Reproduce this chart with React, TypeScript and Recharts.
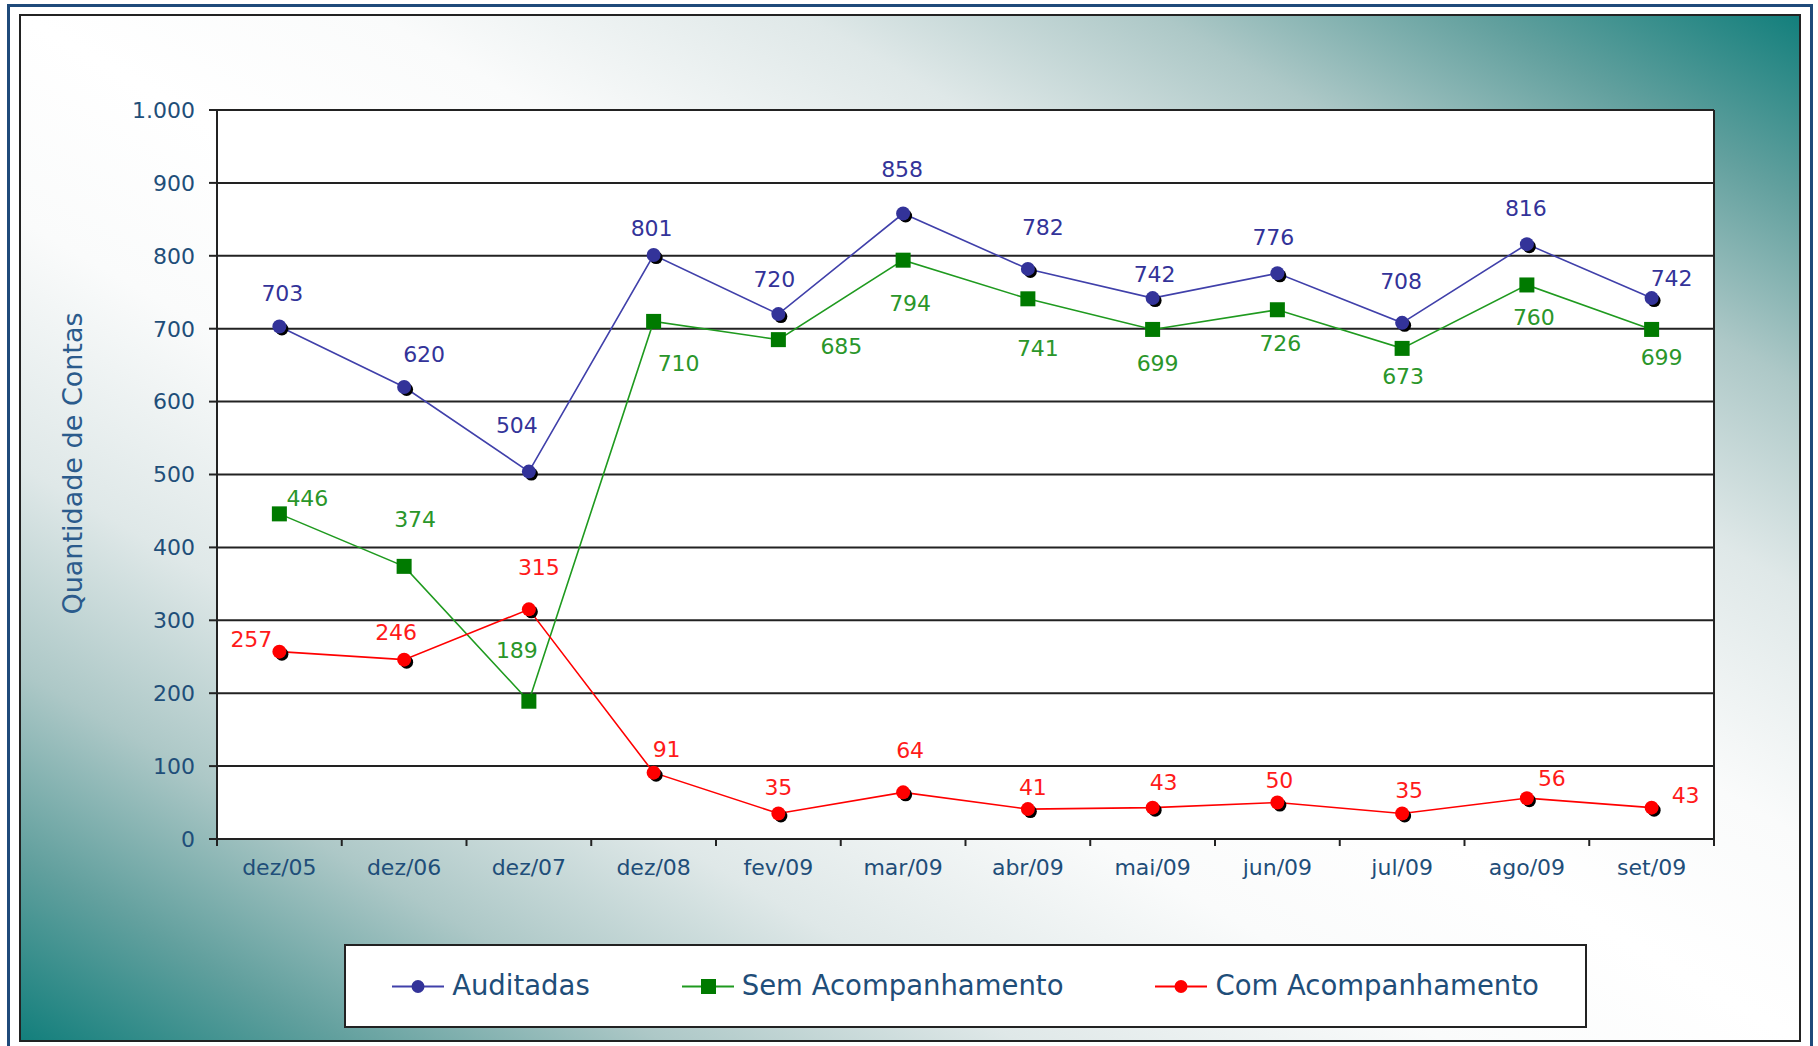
import React from 'react';
import { LineChart, Line, XAxis, YAxis, CartesianGrid, Legend, LabelList } from 'recharts';

const months = ['dez/05', 'dez/06', 'dez/07', 'dez/08', 'fev/09', 'mar/09', 'abr/09', 'mai/09', 'jun/09', 'jul/09', 'ago/09', 'set/09'];
const auditadas = [703, 620, 504, 801, 720, 858, 782, 742, 776, 708, 816, 742];
const semAcompanhamento = [446, 374, 189, 710, 685, 794, 741, 699, 726, 673, 760, 699];
const comAcompanhamento = [257, 246, 315, 91, 35, 64, 41, 43, 50, 35, 56, 43];
const yTicks = [0, 100, 200, 300, 400, 500, 600, 700, 800, 900, 1000];
const legendOrder = ['auditadas', 'sem', 'com'];

// where Excel dropped each data label, relative to its point (px)
const audOffsets = [[3, -33], [20, -33], [-12, -46], [-2, -27], [-4, -35], [-1, -44], [15, -41], [2, -24], [-4, -36], [-1, -41], [-1, -36], [20, -20]];
const semOffsets = [[28, -15], [11, -47], [-12, -51], [25, 42], [63, 7], [7, 43], [10, 50], [5, 34], [3, 34], [1, 28], [7, 33], [10, 28]];
const comOffsets = [[-28, -12], [-8, -27], [10, -42], [13, -23], [0, -26], [7, -42], [5, -22], [11, -25], [2, -22], [7, -23], [25, -20], [34, -12]];

const data = months.map((mes, i) => ({
  mes,
  auditadas: auditadas[i],
  sem: semAcompanhamento[i],
  com: comAcompanhamento[i],
}));

const W = 1818;
const H = 1046;
const FONT = '"DejaVu Sans", Verdana, sans-serif';
const AXIS_TEXT = '#1f4e79';
const FRAME = '#222';
const NAVY = '#333399';
const NAVY_LINE = '#4040aa';
const GREEN = '#007a00';
const GREEN_LINE = '#1f9a1f';
const GREEN_TEXT = '#2a962a';
const RED = '#ff0000';

const MARGIN = { top: 110, right: 104, bottom: 147, left: 0 };
const Y_AXIS_W = 217;
const PLOT_W = W - MARGIN.right - Y_AXIS_W;
const BAND = PLOT_W / months.length;

const fmtThousands = (v: number) => String(v).replace(/\B(?=(\d{3})+(?!\d))/g, '.');

const roundDot = (fill: string) => (props: any) => {
  const { cx, cy, index } = props;
  if (cx == null || cy == null) return <g key={`d-${index}`} />;
  return (
    <g key={`d-${index}`}>
      <circle cx={cx + 2.5} cy={cy + 2.5} r={6.5} fill="#000" />
      <circle cx={cx} cy={cy} r={7} fill={fill} />
    </g>
  );
};

const squareDot = (props: any) => {
  const { cx, cy, index } = props;
  if (cx == null || cy == null) return <g key={`s-${index}`} />;
  return <rect key={`s-${index}`} x={cx - 7.5} y={cy - 7.5} width={15} height={15} fill={GREEN} />;
};

const pointLabel = (color: string, offsets: number[][]) => (props: any) => {
  const vb = props.viewBox || {};
  const x = props.x ?? vb.x;
  const y = props.y ?? vb.y;
  const [dx, dy] = offsets[props.index] || [0, -30];
  return (
    <text
      key={`l-${props.index}`}
      x={x + dx}
      y={y + dy}
      fill={color}
      fontSize={22}
      fontFamily={FONT}
      textAnchor="middle"
      dominantBaseline="central"
    >
      {props.value}
    </text>
  );
};

const XTick = (props: any) => {
  const { x, y, payload, index } = props;
  const axisY = y - 7;
  return (
    <g>
      <line x1={x - BAND / 2} x2={x - BAND / 2} y1={axisY} y2={axisY + 7} stroke={FRAME} strokeWidth={2} />
      {index === months.length - 1 && (
        <line x1={x + BAND / 2} x2={x + BAND / 2} y1={axisY} y2={axisY + 7} stroke={FRAME} strokeWidth={2} />
      )}
      <text x={x} y={axisY + 36} textAnchor="middle" fill={AXIS_TEXT} fontSize={22} fontFamily={FONT}>
        {payload.value}
      </text>
    </g>
  );
};

const legendMarker = (key: string, color: string) => {
  if (key === 'sem') return <rect x={19} y={3} width={15} height={15} fill={GREEN} />;
  return <circle cx={26} cy={10.5} r={6.5} fill={key === 'auditadas' ? NAVY : color} />;
};

const renderLegend = (props: any) => {
  const items = [...(props.payload || [])].sort(
    (a: any, b: any) => legendOrder.indexOf(a.dataKey) - legendOrder.indexOf(b.dataKey)
  );
  return (
    <div
      style={{
        width: '100%',
        height: '100%',
        boxSizing: 'border-box',
        border: `2px solid ${FRAME}`,
        background: '#fff',
        display: 'flex',
        alignItems: 'center',
        justifyContent: 'center',
        gap: 92,
        fontFamily: FONT,
      }}
    >
      {items.map((it: any) => (
        <div key={it.dataKey} style={{ display: 'flex', alignItems: 'center' }}>
          <svg width={52} height={21}>
            <line x1={0} y1={10.5} x2={52} y2={10.5} stroke={it.color} strokeWidth={2} />
            {legendMarker(it.dataKey, it.color)}
          </svg>
          <span style={{ marginLeft: 8, fontSize: 27.5, color: AXIS_TEXT, lineHeight: 1 }}>{it.value}</span>
        </div>
      ))}
    </div>
  );
};

const yTitle = (props: any) => {
  const vb = props.viewBox || { x: 0, y: MARGIN.top, height: 729 };
  const cx = vb.x + 72;
  const cy = vb.y + vb.height / 2 - 11;
  return (
    <text
      x={cx}
      y={cy}
      transform={`rotate(-90 ${cx} ${cy})`}
      textAnchor="middle"
      dominantBaseline="central"
      fill="#2b5b8c"
      fontSize={27}
      fontFamily={FONT}
    >
      Quantidade de Contas
    </text>
  );
};

export default function App() {
  return (
    <div style={{ position: 'absolute', left: 0, top: 0, width: W, height: H, overflow: 'hidden', background: '#fff' }}>
      <div
        style={{
          position: 'absolute',
          left: 7,
          top: 4,
          width: 1806,
          height: 1060,
          boxSizing: 'border-box',
          border: '3px solid #1f4a7a',
        }}
      />
      <div
        style={{
          position: 'absolute',
          left: 19,
          top: 14,
          width: 1782,
          height: 1028,
          boxSizing: 'border-box',
          border: `2px solid ${FRAME}`,
          background:
            'linear-gradient(to top right, #137f7c 0%, #62a09e 9%, #adc8c7 18%, #dfe8e8 28%, #fafbfb 40%, #ffffff 50%, #fafbfb 60%, #dfe8e8 72%, #adc8c7 82%, #62a09e 91%, #137f7c 100%)',
        }}
      />
      <div style={{ position: 'absolute', left: 0, top: 0 }}>
        <LineChart width={W} height={H} data={data} margin={MARGIN} style={{ fontFamily: FONT }}>
          <CartesianGrid
            fill="#fff"
            fillOpacity={1}
            stroke={FRAME}
            strokeWidth={2}
            verticalCoordinatesGenerator={({ offset }: any) => [offset.left, offset.left + offset.width]}
          />
          <XAxis
            dataKey="mes"
            scale="band"
            interval={0}
            height={60}
            tickSize={7}
            tickMargin={0}
            tickLine={false}
            axisLine={{ stroke: FRAME, strokeWidth: 2 }}
            tick={<XTick />}
          />
          <YAxis
            width={Y_AXIS_W}
            domain={[0, 1000]}
            ticks={yTicks}
            interval={0}
            tickFormatter={fmtThousands}
            tickSize={8}
            tickMargin={14}
            tick={{ fill: AXIS_TEXT, fontSize: 22, fontFamily: FONT }}
            tickLine={{ stroke: FRAME, strokeWidth: 2 }}
            axisLine={{ stroke: FRAME, strokeWidth: 2 }}
            label={yTitle}
          />
          <Legend
            layout="horizontal"
            verticalAlign="middle"
            align="center"
            wrapperStyle={{ left: 344, top: 944, width: 1243, height: 84 }}
            content={renderLegend}
          />
          <Line
            dataKey="auditadas"
            name="Auditadas"
            stroke={NAVY_LINE}
            strokeWidth={1.6}
            dot={roundDot(NAVY)}
            activeDot={false}
            isAnimationActive={false}
          >
            <LabelList dataKey="auditadas" content={pointLabel(NAVY, audOffsets)} />
          </Line>
          <Line
            dataKey="sem"
            name="Sem Acompanhamento"
            stroke={GREEN_LINE}
            strokeWidth={1.6}
            dot={squareDot}
            activeDot={false}
            isAnimationActive={false}
          >
            <LabelList dataKey="sem" content={pointLabel(GREEN_TEXT, semOffsets)} />
          </Line>
          <Line
            dataKey="com"
            name="Com Acompanhamento"
            stroke={RED}
            strokeWidth={1.6}
            dot={roundDot(RED)}
            activeDot={false}
            isAnimationActive={false}
          >
            <LabelList dataKey="com" content={pointLabel('#ff1a1a', comOffsets)} />
          </Line>
        </LineChart>
      </div>
    </div>
  );
}
